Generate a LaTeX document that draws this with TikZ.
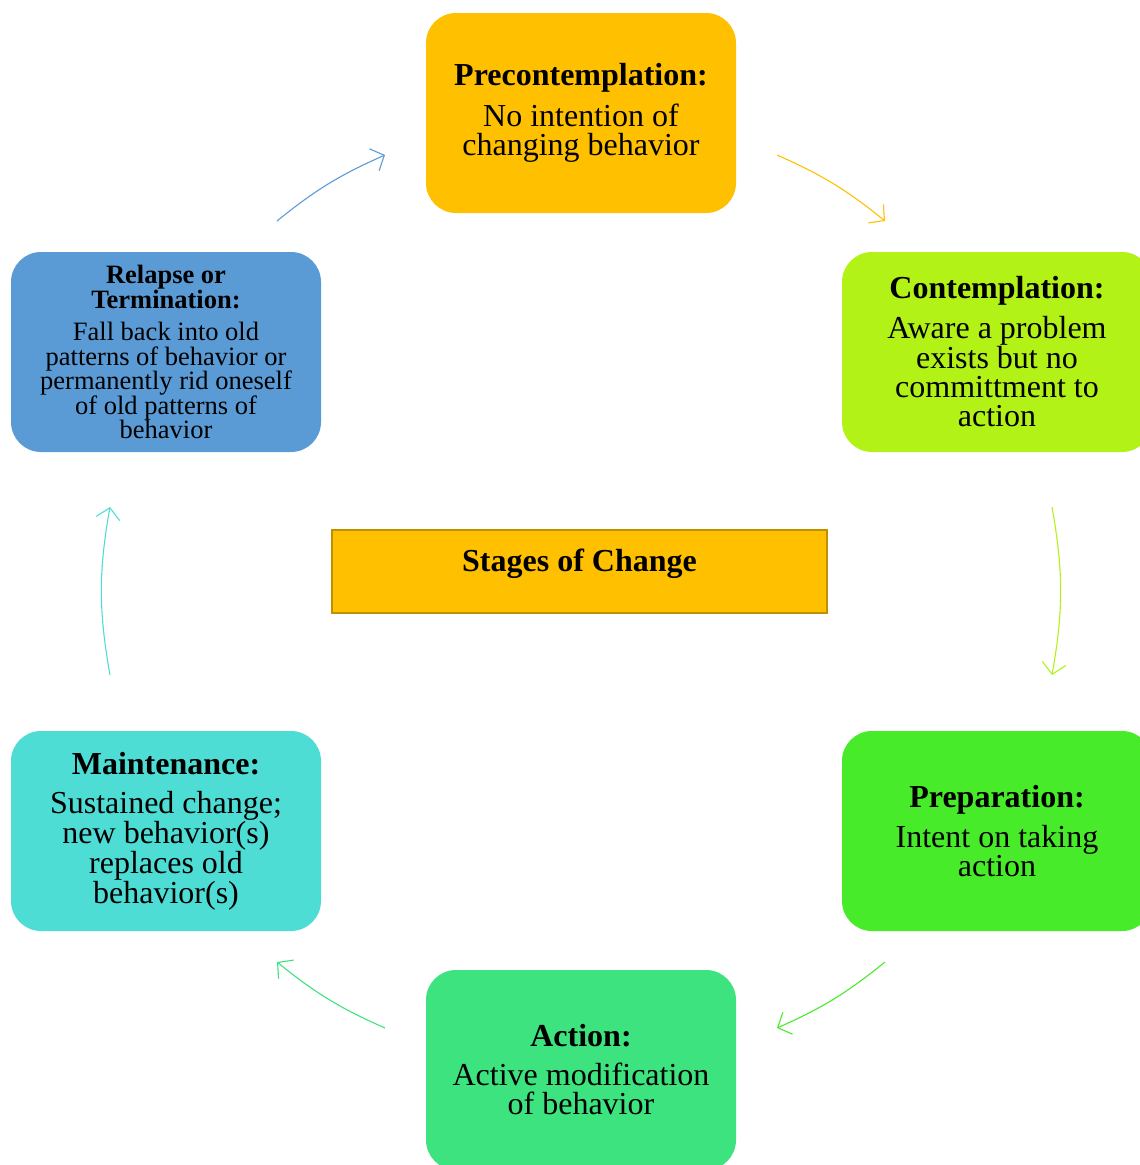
\documentclass[tikz,border=0pt]{standalone}
\usepackage{fontspec}
\setmainfont{Liberation Serif}
\usetikzlibrary{arrows.meta}
\definecolor{cPre}{HTML}{FFC000}
\definecolor{cPreDark}{HTML}{BF9000}
\definecolor{cCon}{HTML}{B2F216}
\definecolor{cPrep}{HTML}{48EB2A}
\definecolor{cAct}{HTML}{3CE37E}
\definecolor{cMain}{HTML}{4EDDD5}
\definecolor{cRel}{HTML}{5B9BD5}
\begin{document}
\begin{tikzpicture}[x=1pt,y=-1pt,
  stage/.style={rounded corners=30pt, minimum width=310pt, minimum height=200pt,
    inner sep=0pt, align=center, font=\fontsize{32}{29}\selectfont},
  smallstage/.style={stage, font=\fontsize{26.5}{24.5}\selectfont},
  cyc/.style={line width=1.1pt, -{Straight Barb[length=11pt,width=24pt]}},
  ]
\useasboundingbox (0,0) rectangle (1140,1165);
\clip (0,0) rectangle (1140,1165);

\node[stage, fill=cPre] (pre) at (581,113)
  {\textbf{Precontemplation:}\\[10pt]No intention of\\changing behavior};
\node[stage, fill=cCon] (con) at (997,352)
  {\textbf{Contemplation:}\\[10pt]Aware a problem\\exists but no\\committment to\\action};
\node[stage, fill=cPrep] (prep) at (997,831)
  {\textbf{Preparation:}\\[10pt]Intent on taking\\action};
\node[stage, fill=cAct] (act) at (581,1070)
  {\textbf{Action:}\\[10pt]Active modification\\of behavior};
\node[stage, fill=cMain] (main) at (166,831)
  {\textbf{Maintenance:}\\[10pt]Sustained change;\\new behavior(s)\\replaces old\\behavior(s)};
\node[smallstage, fill=cRel] (rel) at (166,352)
  {\textbf{Relapse or}\\\textbf{Termination:}\\[8pt]Fall back into old\\patterns of behavior or\\permanently rid oneself\\of old patterns of\\behavior};

\node[draw=cPreDark, fill=cPre, line width=2pt, minimum width=495pt, minimum height=83pt,
  inner sep=0pt, text height=22pt, text depth=22pt, font=\fontsize{32}{29}\selectfont\bfseries]
  (title) at (579.5,571.5) {Stages of Change};

\coordinate (a1s) at (277,221); \coordinate (a1e) at (385,155);
\coordinate (a2s) at (777,155); \coordinate (a2e) at (885,221);
\coordinate (a3s) at (1052,507); \coordinate (a3e) at (1052,675);
\coordinate (a4s) at (885,962); \coordinate (a4e) at (777,1028);
\coordinate (a5s) at (385,1028); \coordinate (a5e) at (277,962);
\coordinate (a6s) at (110,675); \coordinate (a6e) at (110,507);

\draw[cyc, draw=cRel] (a1s) to[bend left=7.6] (a1e);
\draw[cyc, draw=cPre] (a2s) to[bend left=7.6] (a2e);
\draw[cyc, draw=cCon] (a3s) to[bend left=10.1] (a3e);
\draw[cyc, draw=cPrep] (a4s) to[bend left=7.6] (a4e);
\draw[cyc, draw=cAct] (a5s) to[bend left=7.6] (a5e);
\draw[cyc, draw=cMain] (a6s) to[bend left=10.1] (a6e);
\end{tikzpicture}
\end{document}
